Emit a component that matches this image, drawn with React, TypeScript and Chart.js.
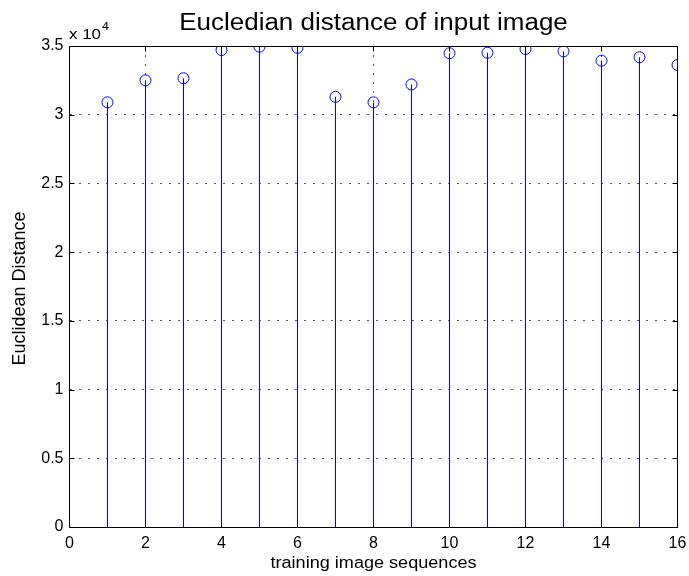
import React, { useEffect, useRef } from "react";
import { Chart, registerables } from "chart.js";

Chart.register(...registerables);

// Training image index (1..16) and its Euclidean distance to the input image
const sequences = [1, 2, 3, 4, 5, 6, 7, 8, 9, 10, 11, 12, 13, 14, 15, 16];
const distances = [
  30900, 32500, 32650, 34700, 34950, 34870, 31300, 30900,
  32200, 34470, 34510, 34780, 34610, 33930, 34180, 33620,
];
const xTickValues = [0, 2, 4, 6, 8, 10, 12, 14, 16];
const yTickValues = [0, 5000, 10000, 15000, 20000, 25000, 30000, 35000];

const titleText = "Eucledian distance of input image";
const xAxisTitle = "training image sequences";
const yAxisTitle = "Euclidean Distance";

const FONT = "'Liberation Sans', Arial, Helvetica, sans-serif";
const STEM_BLUE = "#0000ff";
const TEXT_STRETCH = 1.13;

function stretchedText(ctx: CanvasRenderingContext2D, text: string, x: number, y: number, align: "left" | "center") {
  const w = ctx.measureText(text).width * TEXT_STRETCH;
  const x0 = align === "center" ? x - w / 2 : x;
  ctx.save();
  ctx.translate(x0, y);
  ctx.scale(TEXT_STRETCH, 1);
  ctx.textAlign = "left";
  ctx.fillText(text, 0, 0);
  ctx.restore();
  return w;
}

// Stem lines from the baseline up to each marker, placed with the chart's scales
const stemPlugin = {
  id: "stems",
  beforeDatasetsDraw(chart: any) {
    const { ctx } = chart;
    const xs = chart.scales.x;
    const ys = chart.scales.y;
    const base = ys.getPixelForValue(0);
    ctx.save();
    ctx.strokeStyle = STEM_BLUE;
    ctx.lineWidth = 1;
    ctx.setLineDash([]);
    ctx.beginPath();
    sequences.forEach((s, i) => {
      const px = Math.floor(xs.getPixelForValue(s)) + 0.5;
      ctx.moveTo(px, base);
      ctx.lineTo(px, ys.getPixelForValue(distances[i]));
    });
    ctx.stroke();
    ctx.restore();
  },
};

// Box, inward ticks and annotation texts drawn around the plot area
const framePlugin = {
  id: "frame",
  afterDraw(chart: any) {
    const { ctx, chartArea } = chart;
    const { left, right, top, bottom } = chartArea;
    const xs = chart.scales.x;
    const ys = chart.scales.y;
    const L = Math.floor(left) + 0.5;
    const R = Math.floor(right) + 0.5;
    const T = Math.round(top) + 0.5;
    const B = Math.round(bottom) + 0.5;
    ctx.save();
    ctx.strokeStyle = "#000";
    ctx.lineWidth = 1;
    ctx.setLineDash([]);
    ctx.strokeRect(L, T, R - L, B - T);
    const tl = 5;
    ctx.beginPath();
    for (const v of xTickValues) {
      const px = Math.floor(xs.getPixelForValue(v)) + 0.5;
      ctx.moveTo(px, B);
      ctx.lineTo(px, B - tl);
      ctx.moveTo(px, T);
      ctx.lineTo(px, T + tl);
    }
    for (const v of yTickValues) {
      const py = Math.round(ys.getPixelForValue(v)) + 0.5;
      ctx.moveTo(L, py);
      ctx.lineTo(L + tl, py);
      ctx.moveTo(R, py);
      ctx.lineTo(R - tl, py);
    }
    ctx.stroke();

    ctx.fillStyle = "#000";
    ctx.textBaseline = "alphabetic";
    // title
    ctx.font = `23px ${FONT}`;
    stretchedText(ctx, titleText, (left + right) / 2, 29.5, "center");
    // x axis title
    ctx.font = `16px ${FONT}`;
    stretchedText(ctx, xAxisTitle, (left + right) / 2, 568, "center");
    // y axis title
    ctx.save();
    ctx.translate(25, (top + bottom) / 2 + 2);
    ctx.rotate(-Math.PI / 2);
    ctx.font = `18px ${FONT}`;
    ctx.textAlign = "center";
    ctx.fillText(yAxisTitle, 0, 0);
    ctx.restore();
    // exponent label
    ctx.font = `15px ${FONT}`;
    const w = stretchedText(ctx, "x 10", 69, 38.5, "left");
    ctx.font = `11px ${FONT}`;
    stretchedText(ctx, "4", 69 + w + 1, 30, "left");
    ctx.restore();
  },
};

export default function App() {
  const canvasRef = useRef<HTMLCanvasElement | null>(null);

  useEffect(() => {
    document.body.style.margin = "0";
    const canvas = canvasRef.current;
    if (!canvas) return;
    const points = sequences.map((s, i) => ({ x: s, y: distances[i] }));
    const chart = new Chart(canvas, {
      type: "scatter",
      data: {
        datasets: [
          {
            data: points,
            pointStyle: "circle",
            pointRadius: 5.5,
            pointHoverRadius: 5.5,
            pointBorderWidth: 1,
            pointBorderColor: STEM_BLUE,
            pointBackgroundColor: "rgba(255,255,255,0)",
          },
        ],
      },
      options: {
        responsive: false,
        animation: false,
        events: [],
        layout: { padding: { top: 46, right: 11.5, left: 0, bottom: 0 } },
        plugins: {
          legend: { display: false },
          title: { display: false },
          tooltip: { enabled: false },
        },
        scales: {
          x: {
            type: "linear",
            min: 0,
            max: 16,
            offset: false,
            afterFit: (s: any) => {
              s.height = 49;
              s.paddingLeft = 0;
              s.paddingRight = 0;
            },
            afterBuildTicks: (s: any) => {
              s.ticks = xTickValues.map((v) => ({ value: v }));
            },
            ticks: {
              padding: 7,
              color: "#000",
              font: { family: FONT, size: 16 },
              maxRotation: 0,
            },
            grid: {
              color: "#555",
              lineWidth: 1,
              drawTicks: false,
            },
            border: { display: false, dash: [2, 7] },
          },
          y: {
            type: "linear",
            min: 0,
            max: 35000,
            afterFit: (s: any) => {
              s.width = 69.5;
              s.paddingTop = 0;
              s.paddingBottom = 0;
            },
            afterBuildTicks: (s: any) => {
              s.ticks = yTickValues.map((v) => ({ value: v }));
            },
            ticks: {
              padding: 6,
              color: "#000",
              font: { family: FONT, size: 16 },
              callback: (v: any) => String(Number(v) / 10000),
            },
            grid: {
              color: "#555",
              lineWidth: 1,
              drawTicks: false,
            },
            border: { display: false, dash: [2, 7] },
          },
        },
      } as any,
      plugins: [stemPlugin, framePlugin],
    });
    return () => chart.destroy();
  }, []);

  return (
    <div style={{ width: 689, height: 576, background: "#fff" }}>
      <canvas ref={canvasRef} width={689} height={576} />
    </div>
  );
}
